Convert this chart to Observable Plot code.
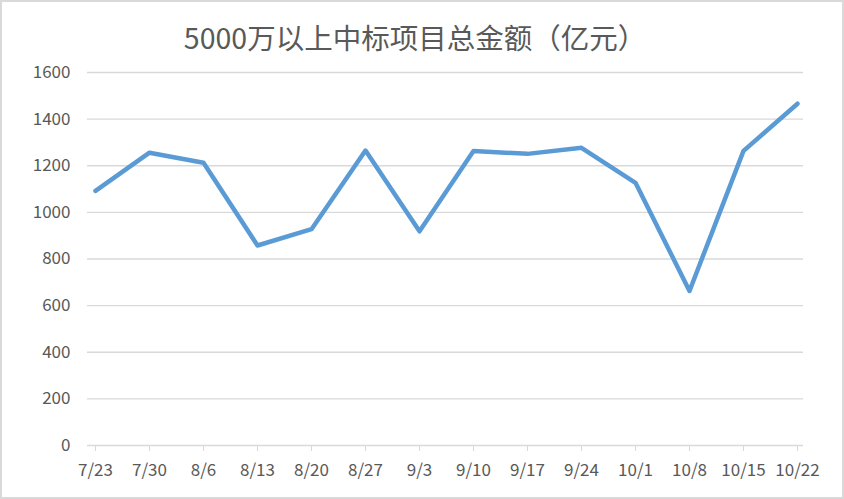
<!DOCTYPE html>
<html><head><meta charset="utf-8">
<script src="https://cdn.jsdelivr.net/npm/d3@7"></script>
<script src="https://cdn.jsdelivr.net/npm/@observablehq/plot@0.6"></script>
<style>
html,body{margin:0;padding:0;background:#fff;}
#wrap{width:844px;height:499px;box-sizing:border-box;border:2px solid #d9d9d9;overflow:hidden;font-family:"Noto Sans CJK SC","Noto Sans",sans-serif;background:#fff;}
#title{box-sizing:border-box;height:54px;padding-top:19px;padding-right:14px;line-height:32px;text-align:center;color:#595959;font-size:28.5px;white-space:nowrap;}
</style></head>
<body>
<div id="wrap"><div id="title">5000万以上中标项目总金额（亿元）</div><div id="chart"></div></div>
<script>
const dates = ["7/23","7/30","8/6","8/13","8/20","8/27","9/3","9/10","9/17","9/24","10/1","10/8","10/15","10/22"];
const values = [1092,1256,1213,858,928,1265,919,1263,1251,1277,1127,663,1264,1466];
const yTicks = [0,200,400,600,800,1000,1200,1400,1600];

const data = dates.map((d,i)=>({date:d,value:values[i]}));

const chart = Plot.plot({
  width: 840,
  height: 443,
  marginLeft: 85,
  marginRight: 39,
  marginTop: 16,
  marginBottom: 54,
  x: {type:"point", domain: dates, padding: 0, insetLeft: 2, insetRight: 0},
  y: {domain:[0,1600]},
  style: {fontFamily:'"Noto Sans CJK SC","Noto Sans",sans-serif', fontSize:"17px", color:"#595959", background:"#fff"},
  marks: [
    Plot.gridY(yTicks, {stroke:"#d9d9d9", strokeOpacity:1, strokeWidth:1.3}),
    Plot.axisY(yTicks, {tickSize:0, tickPadding:17, tickFormat:"d", label:null}),
    Plot.axisX({tickSize:6, tickPadding:12, stroke:"#d9d9d9", strokeOpacity:1, label:null}),
    Plot.lineY(data, {x:"date", y:"value", stroke:"#5b9bd5", strokeWidth:4.5, strokeLinejoin:"round", strokeLinecap:"round"})
  ]
});
document.getElementById("chart").appendChild(chart);
</script>
</body></html>
